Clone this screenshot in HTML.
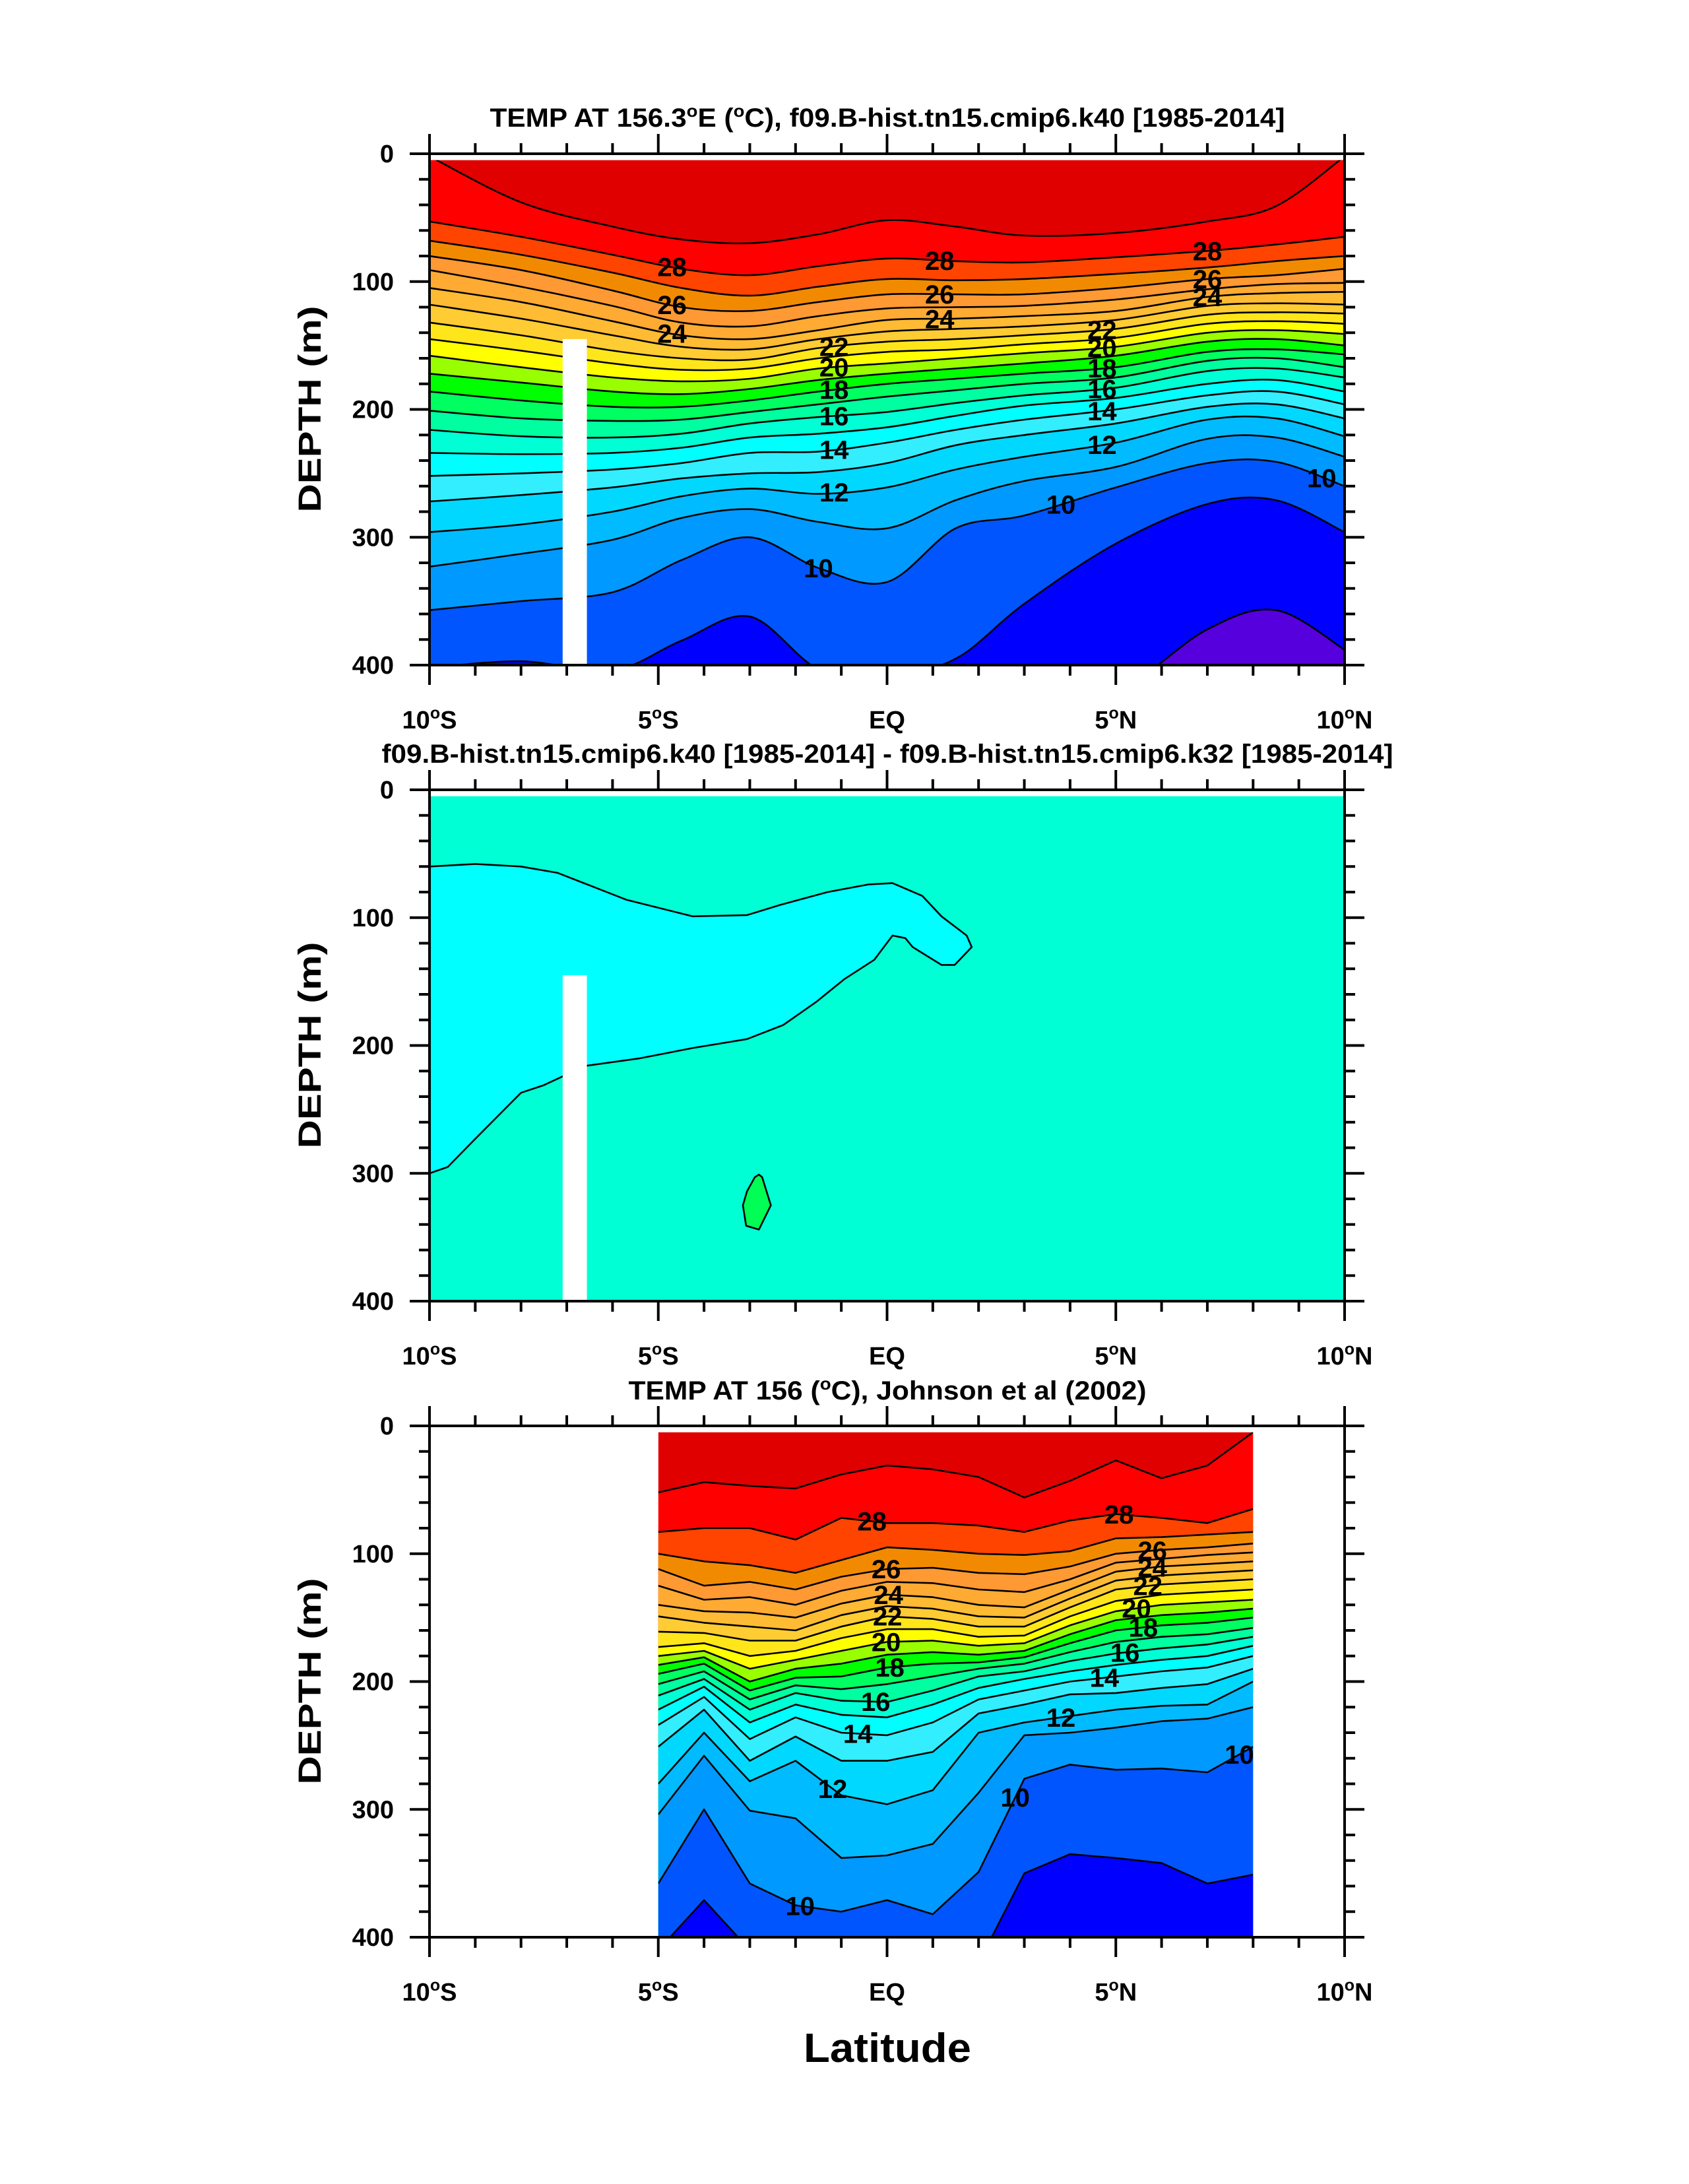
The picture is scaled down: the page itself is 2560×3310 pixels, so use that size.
<!DOCTYPE html>
<html><head><meta charset="utf-8">
<style>
html,body{margin:0;padding:0;background:#fff;}
svg{display:block;font-family:"Liberation Sans",Arial,sans-serif;font-weight:bold;}
</style></head>
<body>
<svg id="fig" xmlns="http://www.w3.org/2000/svg" width="2560" height="3310" viewBox="0 0 2560 3310">
<rect x="0" y="0" width="2560" height="3310" fill="#fff"/>
<text x="1345" y="192" font-size="40" text-anchor="middle" textLength="1205" lengthAdjust="spacingAndGlyphs">TEMP AT 156.3<tspan dy="-15" font-size="26">o</tspan><tspan dy="15">E (</tspan><tspan dy="-15" font-size="26">o</tspan><tspan dy="15">C), f09.B-hist.tn15.cmip6.k40 [1985-2014]</tspan></text>
<text x="1345" y="1156" font-size="40" text-anchor="middle" textLength="1533" lengthAdjust="spacingAndGlyphs">f09.B-hist.tn15.cmip6.k40 [1985-2014] - f09.B-hist.tn15.cmip6.k32 [1985-2014]</text>
<text x="1345" y="2121" font-size="40" text-anchor="middle" textLength="785" lengthAdjust="spacingAndGlyphs">TEMP AT 156 (<tspan dy="-15" font-size="26">o</tspan><tspan dy="15">C), Johnson et al (2002)</tspan></text>
<text transform="translate(486,620) rotate(-90)" font-size="48" text-anchor="middle" textLength="313" lengthAdjust="spacingAndGlyphs">DEPTH (m)</text>
<text transform="translate(486,1584) rotate(-90)" font-size="48" text-anchor="middle" textLength="313" lengthAdjust="spacingAndGlyphs">DEPTH (m)</text>
<text transform="translate(486,2548) rotate(-90)" font-size="48" text-anchor="middle" textLength="313" lengthAdjust="spacingAndGlyphs">DEPTH (m)</text>
<text x="1345" y="3125" font-size="62" text-anchor="middle" textLength="254" lengthAdjust="spacingAndGlyphs">Latitude</text>
</svg>
<script>
// ---------- data ----------
const p1Lat = [-10,-8,-6,-4.5,-3,-1.5,0,1.5,3,5,7,8.5,10];
const p1Levels = [29,28,27,26,25,24,23,22,21,20,19,18,17,16,15,14,13,12,11,10,9,8];
const p1Depths = [
 [2,38,57,67,70,63,52,57,64,62,53,41,2],
 [53,65,79,90,95,88,82,84,85,81,76,71,65],
 [68,79,93,105,111,104,98,99,98,94,89,84,80],
 [80,91,107,120,123,116,110,110,110,105,98,95,90],
 [91,104,119,132,135,127,121,120,119,114,106,102,101],
 [105,116,131,142,145,138,130,129,127,123,112,109,108],
 [118,129,142,151,153,145,139,137,135,130,119,117,118],
 [132,142,154,160,161,152,147,145,142,137,126,124,125],
 [145,154,164,169,168,160,155,153,149,144,133,131,133],
 [158,167,175,178,176,168,164,160,156,151,140,138,141],
 [172,179,186,188,184,177,172,168,164,158,147,145,150],
 [186,193,198,198,193,186,180,176,172,167,155,153,157],
 [201,207,209,208,202,196,190,185,180,175,162,160,167],
 [216,221,222,219,211,206,202,195,189,183,170,168,175],
 [234,235,234,230,222,219,214,205,197,191,180,177,186],
 [252,250,247,242,234,233,226,216,208,200,189,186,196],
 [272,267,261,254,250,249,242,228,220,211,198,196,207],
 [296,290,280,268,262,266,261,247,237,226,208,207,221],
 [323,313,302,285,278,288,293,271,256,245,223,222,237],
 [357,350,343,318,300,324,335,293,283,261,242,241,260],
 [402,397,404,381,362,403,408,395,352,305,274,271,296],
 [420,420,420,420,420,420,420,420,420,420,372,357,388]
];
const p1LabLev = [28,26,24,28,26,24,28,26,24,22,20,18,16,14,12,10,22,20,18,16,14,12,10,10];
const p1LabLat = [-4.7,-4.7,-4.7,1.15,1.15,1.15,7.0,7.0,7.0,-1.16,-1.16,-1.16,-1.16,-1.16,-1.16,-1.5,4.7,4.7,4.7,4.7,4.7,4.7,3.8,9.5];

const p2CyanLat = [-10,-9,-8,-7.2,-5.7,-4.25,-3.06,-2.33,-1.3,-0.4,0.12,0.77,1.19,1.74,1.85,1.48,1.19,0.56,0.4,0.12,-0.28,-0.93,-1.55,-2.27,-3.06,-4.25,-5.4,-6.6,-7.5,-8.0,-9.0,-9.6,-10];
const p2CyanDepth = [60,58,60,65,86,99,98,90,80,74,73,83,99,114,123,137,137,123,116,114,133,148,166,184,195,202,210,216,231,237,273,295,300];
const p2GreenLat = [-2.80,-2.73,-2.54,-2.80,-3.08,-3.15,-3.06,-2.89];
const p2GreenDepth = [301,303,325,344,341,325,314,303];

const p3Lat = [-5,-4,-3,-2,-1,0,1,2,3,4,5,6,7,8];
const p3Levels = [29,28,27,26,25,24,23,22,21,20,19,18,17,16,15,14,13,12,11,10,9];
const p3Depths = [
 [52,44,47,49,38,31,34,40,56,43,27,41,31,5],
 [83,80,80,89,72,76,76,78,83,74,69,72,76,65],
 [100,106,109,115,105,95,97,100,101,98,88,87,85,83],
 [112,125,122,128,118,112,111,115,116,110,100,97,95,92],
 [125,136,134,140,129,122,123,128,130,120,107,104,101,99],
 [140,145,146,150,139,132,134,140,142,128,114,110,108,106],
 [149,154,157,160,148,141,143,149,150,135,121,117,115,113],
 [161,162,168,168,157,149,151,157,157,142,128,124,122,120],
 [173,170,180,176,166,159,159,165,164,149,137,132,130,128],
 [180,176,190,183,176,169,168,172,170,156,145,140,138,136],
 [187,181,200,190,186,179,177,179,176,163,152,148,146,143],
 [194,186,207,197,196,189,186,185,181,170,160,156,154,150],
 [202,192,214,203,206,202,196,190,186,177,169,165,163,158],
 [211,198,222,209,215,216,207,196,192,184,178,174,171,165],
 [222,204,232,218,226,228,218,205,198,192,187,183,180,172],
 [234,212,245,228,240,242,232,214,207,200,196,192,189,180],
 [251,222,262,243,262,262,255,225,218,210,209,205,202,190],
 [280,240,278,262,289,296,285,240,232,227,222,219,218,200],
 [304,258,301,307,338,336,327,287,242,240,236,231,229,220],
 [358,300,358,375,380,371,382,349,276,265,269,268,271,251],
 [410,371,410,410,410,410,410,420,350,335,338,342,358,351]
];
const p3LabLev = [28,28,26,24,22,20,18,16,14,12,10,10,12,14,16,18,20,22,24,26,10];
const p3LabLat = [-0.33,5.07,-0.02,0.03,0.01,-0.02,0.06,-0.25,-0.64,-1.19,-1.9,2.8,3.8,4.75,5.2,5.6,5.45,5.7,5.8,5.8,7.7];

const xTickVals = [-10,-5,0,5,10];
const xTickText = ["10|S","5|S","EQ","5|N","10|N"];
const yTickVals = [0,100,200,300,400];
const colorTop = "#e00000";
const colorBelow = {29:"#ff0000",28:"#ff4400",27:"#f28a00",26:"#ff9933",25:"#ffaa33",24:"#ffbb33",23:"#ffcc33",22:"#ffe61a",21:"#ffff00",20:"#99ff00",19:"#00ff00",18:"#00ff60",17:"#00ffa0",16:"#00ffd5",15:"#00ffff",14:"#33eeff",13:"#00d8ff",12:"#00bbff",11:"#0099ff",10:"#0055ff",9:"#0000ff",8:"#5500dd"};

// ---------- geometry ----------
const NS = "http://www.w3.org/2000/svg";
const svg = document.getElementById("fig");
const X0 = 651, X1 = 2038, H = 775;
const tops = [233, 1197, 2161];
function xs(lat){ return X0 + (lat + 10) / 20 * (X1 - X0); }
function ys(p, d){ return tops[p] + d / 400 * H; }
function mk(tag, attrs, parent){
  const e = document.createElementNS(NS, tag);
  for (const k in attrs) e.setAttribute(k, attrs[k]);
  parent.appendChild(e);
  return e;
}
function smooth(pts){
  let d = "M" + pts[0][0].toFixed(1) + "," + pts[0][1].toFixed(1);
  for (let i = 0; i < pts.length - 1; i++){
    const p0 = pts[Math.max(i-1,0)], p1 = pts[i], p2 = pts[i+1], p3 = pts[Math.min(i+2,pts.length-1)];
    const c1x = p1[0] + (p2[0]-p0[0])/6, c1y = p1[1] + (p2[1]-p0[1])/6;
    const c2x = p2[0] - (p3[0]-p1[0])/6, c2y = p2[1] - (p3[1]-p1[1])/6;
    d += " C" + c1x.toFixed(1) + "," + c1y.toFixed(1) + " " + c2x.toFixed(1) + "," + c2y.toFixed(1) + " " + p2[0].toFixed(1) + "," + p2[1].toFixed(1);
  }
  return d;
}
function linear(pts){
  return "M" + pts.map(p => p[0].toFixed(1) + "," + p[1].toFixed(1)).join(" L");
}
function interp(lats, vals, la){
  for (let i = 0; i < lats.length - 1; i++){
    if (la >= lats[i] && la <= lats[i+1]){
      const t = (la - lats[i]) / (lats[i+1] - lats[i]);
      return vals[i] + t * (vals[i+1] - vals[i]);
    }
  }
  return vals[vals.length-1];
}

const defs = mk("defs", {}, svg);
function clip(id, x0, y0, x1, y1){
  const c = mk("clipPath", {id: id}, defs);
  mk("rect", {x: x0, y: y0, width: x1 - x0, height: y1 - y0}, c);
}

// ---------- contour panels ----------
function contourPanel(p, lats, levels, depths, pathFn, latMin, latMax, name){
  const cid = "clip" + p;
  clip(cid, xs(latMin), ys(p, 5), xs(latMax), ys(p, 400));
  const g = mk("g", {"clip-path": "url(#" + cid + ")"}, svg);
  
  
  const bg = mk("rect", {x: xs(latMin), y: ys(p, 0), width: xs(latMax) - xs(latMin), height: H, fill: colorTop}, g);
  
  
  const xl = xs(lats[0]), xr = xs(lats[lats.length-1]), yb = ys(p, 400) + 60;
  levels.forEach((lev, i) => {
    const pts = lats.map((la, j) => [xs(la), ys(p, depths[i][j])]);
    const band = mk("path", {d: pathFn(pts) + " L" + xr + "," + yb + " L" + xl + "," + yb + " Z", fill: colorBelow[lev]}, g);
    
    
  });
  levels.forEach((lev, i) => {
    const pts = lats.map((la, j) => [xs(la), ys(p, depths[i][j])]);
    const ln = mk("path", {d: pathFn(pts), fill: "none", stroke: "#000", "stroke-width": 2.6, "stroke-linejoin": "round"}, g);
    
    
  });
  return g;
}
function contourLabels(p, lats, levels, depths, labLev, labLat, name){
  labLev.forEach((lev, k) => {
    const i = levels.indexOf(lev);
    const d = interp(lats, depths[i], labLat[k]);
    const t = mk("text", {x: xs(labLat[k]).toFixed(1), y: (ys(p, d) + 14).toFixed(1), "font-size": 40, "text-anchor": "middle", fill: "#000"}, svg);
    t.textContent = String(lev);
    
    
  });
}
contourPanel(0, p1Lat, p1Levels, p1Depths, smooth, -10, 10, "panel1");
contourLabels(0, p1Lat, p1Levels, p1Depths, p1LabLev, p1LabLat, "panel1");
contourPanel(2, p3Lat, p3Levels, p3Depths, linear, -5, 8, "panel3");
contourLabels(2, p3Lat, p3Levels, p3Depths, p3LabLev, p3LabLat, "panel3");

// ---------- panel 2 ----------
clip("clip1", xs(-10), ys(1, 5), xs(10), ys(1, 400));
const g2 = mk("g", {"clip-path": "url(#clip1)"}, svg);


const bg2 = mk("rect", {x: xs(-10), y: ys(1, 0), width: X1 - X0, height: H, fill: "#00ffd5"}, g2);


const cyanPts = p2CyanLat.map((la, j) => [xs(la), ys(1, p2CyanDepth[j])]);
const cyan = mk("path", {d: linear(cyanPts) + " Z", fill: "#00ffff", stroke: "#000", "stroke-width": 2.6, "stroke-linejoin": "round"}, g2);


const greenPts = p2GreenLat.map((la, j) => [xs(la), ys(1, p2GreenDepth[j])]);
const green = mk("path", {d: linear(greenPts) + " Z", fill: "#00ff55", stroke: "#000", "stroke-width": 2.6, "stroke-linejoin": "round"}, g2);



// missing-data white bars (panels 1 & 2)
[0, 1].forEach(p => {
  const r = mk("rect", {x: xs(-7.09), y: ys(p, 145), width: xs(-6.56) - xs(-7.09), height: ys(p, 400) - ys(p, 145), fill: "#fff"}, svg);
  
  
});

// ---------- axes ----------
[0, 1, 2].forEach(p => {
  const top = ys(p, 0), bot = ys(p, 400);
  const ax = mk("g", {stroke: "#000", "stroke-width": 4, fill: "none"}, svg);
  
  
  mk("rect", {x: X0, y: top, width: X1 - X0, height: bot - top}, ax);
  for (let la = -10; la <= 10; la++){
    const major = la % 5 === 0, L = major ? 30 : 16, x = xs(la);
    mk("line", {x1: x, y1: top, x2: x, y2: top - L}, ax);
    mk("line", {x1: x, y1: bot, x2: x, y2: bot + L}, ax);
  }
  for (let d = 0; d <= 400; d += 20){
    const major = d % 100 === 0, L = major ? 30 : 16, y = ys(p, d);
    mk("line", {x1: X0, y1: y, x2: X0 - L, y2: y}, ax);
    mk("line", {x1: X1, y1: y, x2: X1 + L, y2: y}, ax);
  }
  yTickVals.forEach(v => {
    const t = mk("text", {x: 597, y: (ys(p, v) + 13).toFixed(1), "font-size": 38, "text-anchor": "end"}, svg);
    t.textContent = String(v);
    
    
  });
  xTickVals.forEach((v, k) => {
    const t = mk("text", {x: xs(v).toFixed(1), y: (bot + 96).toFixed(1), "font-size": 38, "text-anchor": "middle"}, svg);
    const parts = xTickText[k].split("|");
    if (parts.length === 2){
      const a = mk("tspan", {}, t); a.textContent = parts[0];
      const b = mk("tspan", {dy: -15, "font-size": 25}, t); b.textContent = "o";
      const c = mk("tspan", {dy: 15}, t); c.textContent = parts[1];
    } else {
      t.textContent = parts[0];
    }
    
    
  });
});
</script>
</body></html>
